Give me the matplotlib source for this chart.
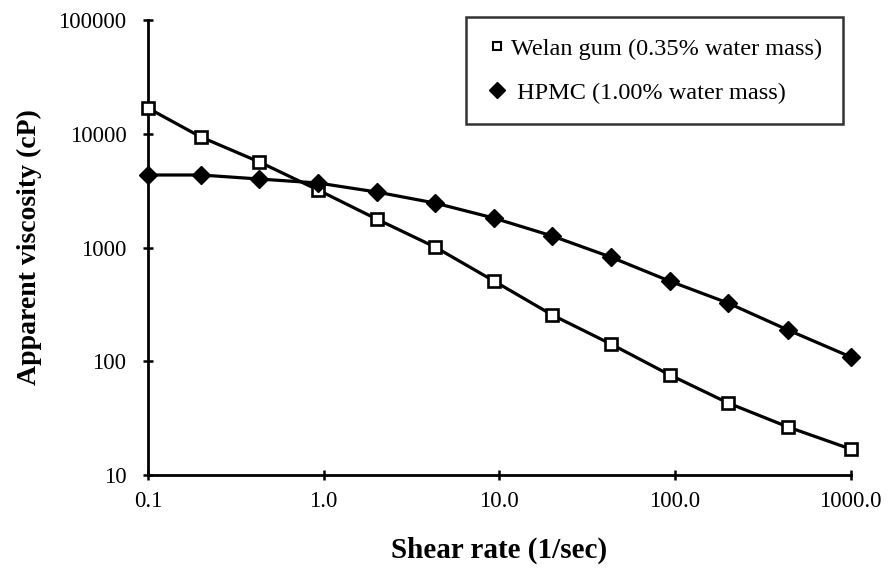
import matplotlib
matplotlib.use("Agg")
import matplotlib.pyplot as plt
from matplotlib.lines import Line2D
from matplotlib.ticker import FixedLocator, FixedFormatter, NullLocator

plt.rcParams['font.family'] = ['Liberation Serif', 'DejaVu Serif']

shear_rate = [0.1, 0.2, 0.43, 0.93, 2.0, 4.3, 9.3, 20, 43, 93, 200, 440, 1000]
welan_gum = [16800, 9360, 5650, 3200, 1780, 1010, 508, 255, 142, 76, 43, 26.4, 16.9]
hpmc = [4340, 4340, 4000, 3690, 3076, 2460, 1815, 1262, 824, 507, 325, 188, 109]

x_ticks = [0.1, 1, 10, 100, 1000]
x_labels = ["0.1", "1.0", "10.0", "100.0", "1000.0"]
y_ticks = [10, 100, 1000, 10000, 100000]
y_labels = ["10", "100", "1000", "10000", "100000"]

fig = plt.figure(figsize=(8.89, 5.72), dpi=100)
ax = fig.add_axes([0.1665, 0.1696, 0.7905, 0.7954])

ax.plot(shear_rate, welan_gum, color='black', lw=2.3, marker='s', ms=8.5,
        mfc='white', mec='black', mew=1.9, zorder=3)
ax.plot(shear_rate, hpmc, color='black', lw=2.3, marker='D', ms=9.5,
        mfc='black', mec='black', zorder=3)

ax.set_xscale('log')
ax.set_yscale('log')
ax.set_xlim(0.1, 1000)
ax.set_ylim(10, 100000)
ax.xaxis.set_major_locator(FixedLocator(x_ticks))
ax.xaxis.set_major_formatter(FixedFormatter(x_labels))
ax.yaxis.set_major_locator(FixedLocator(y_ticks))
ax.yaxis.set_major_formatter(FixedFormatter(y_labels))
ax.xaxis.set_minor_locator(NullLocator())
ax.yaxis.set_minor_locator(NullLocator())

for s in ['top', 'right']:
    ax.spines[s].set_visible(False)
for s in ['left', 'bottom']:
    ax.spines[s].set_linewidth(2.0)
for ln in ax.lines:
    ln.set_clip_on(False)

ax.tick_params(axis='both', which='major', direction='inout', length=7,
               width=1.8, labelsize=16.5)
ax.tick_params(axis='x', pad=8)
ax.tick_params(axis='y', pad=12)

ax.set_xlabel("Shear rate (1/sec)", fontsize=21, fontweight='bold', labelpad=18)
ax.set_ylabel("Apparent viscosity (cP)", fontsize=20, fontweight='bold', labelpad=12)

handles = [
    Line2D([], [], ls='none', marker='s', ms=6, mfc='white', mec='black', mew=1.5),
    Line2D([], [], ls='none', marker='D', ms=8, mfc='black', mec='black'),
]
labels = ["Welan gum (0.35% water mass)", " HPMC (1.00% water mass)"]
leg = fig.legend(handles, labels, loc='upper right',
                 bbox_to_anchor=(843/889, 1 - 17/572),
                 fontsize=17.5, frameon=True, fancybox=False, edgecolor='black',
                 handlelength=0.8, handletextpad=0.2, labelspacing=0.9,
                 borderpad=0.85, borderaxespad=0)
leg.get_frame().set_linewidth(1.8)

fig.savefig("out.png", dpi=100)
